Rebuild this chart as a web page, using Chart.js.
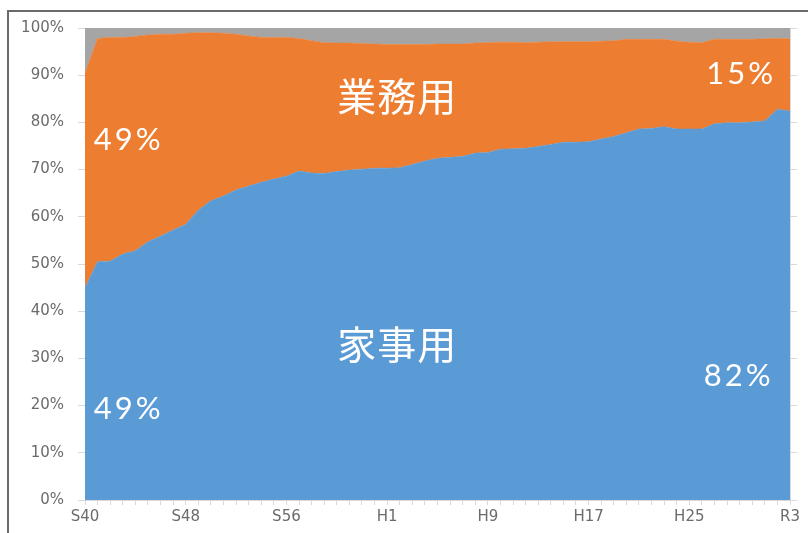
<!DOCTYPE html>
<html lang="ja">
<head>
<meta charset="utf-8">
<title>家事用・業務用の比率</title>
<script src="https://cdn.jsdelivr.net/npm/chart.js@4.4.1/dist/chart.umd.min.js"></script>
<style>
    html, body { margin: 0; padding: 0; background: #fff; overflow: hidden; }
    #frame {
        position: absolute; left: 7px; top: 10px; width: 900px; height: 600px;
        border-left: 2px solid #6a6a6a; border-top: 2px solid #6a6a6a;
    }
    #shareChart { position: absolute; left: 0; top: 0; }
</style>
</head>
<body>
<div id="frame"></div>
<canvas id="shareChart" width="808" height="533"></canvas>
<script>
// 年度 (S40 = 1965 ... R3 = 2021)
const years = [
    'S40', 'S41', 'S42', 'S43', 'S44', 'S45', 'S46', 'S47', 'S48', 'S49',
    'S50', 'S51', 'S52', 'S53', 'S54', 'S55', 'S56', 'S57', 'S58', 'S59',
    'S60', 'S61', 'S62', 'S63', 'H1', 'H2', 'H3', 'H4', 'H5', 'H6',
    'H7', 'H8', 'H9', 'H10', 'H11', 'H12', 'H13', 'H14', 'H15', 'H16',
    'H17', 'H18', 'H19', 'H20', 'H21', 'H22', 'H23', 'H24', 'H25', 'H26',
    'H27', 'H28', 'H29', 'H30', 'R1', 'R2', 'R3'
];

// 家事用 (%)
const household = [
    45.0, 50.5, 50.6, 52.1, 52.8, 54.7, 55.9, 57.2, 58.4, 61.4,
    63.4, 64.4, 65.7, 66.5, 67.3, 68.0, 68.6, 69.7, 69.3, 69.2,
    69.6, 69.9, 70.1, 70.3, 70.3, 70.4, 71.1, 71.8, 72.4, 72.6,
    72.8, 73.5, 73.6, 74.3, 74.4, 74.5, 74.9, 75.3, 75.8, 75.8,
    75.9, 76.5, 77.0, 77.8, 78.6, 78.7, 79.1, 78.6, 78.6, 78.6,
    79.7, 79.9, 79.9, 80.1, 80.3, 82.8, 82.4
];

// 業務用 (%)
const business = [
    45.4, 47.3, 47.4, 45.9, 45.4, 43.8, 42.8, 41.5, 40.5, 37.6,
    35.6, 34.5, 33.0, 31.8, 30.7, 30.0, 29.4, 28.1, 28.0, 27.7,
    27.2, 26.9, 26.6, 26.3, 26.2, 26.1, 25.4, 24.7, 24.2, 24.0,
    23.8, 23.3, 23.3, 22.7, 22.6, 22.4, 22.1, 21.8, 21.3, 21.3,
    21.2, 20.7, 20.3, 19.8, 19.0, 18.9, 18.5, 18.6, 18.4, 18.3,
    17.9, 17.7, 17.7, 17.5, 17.4, 15.0, 15.3
];

// その他 (%)
const other = [
    9.6, 2.2, 2.0, 2.0, 1.8, 1.5, 1.3, 1.3, 1.1, 1.0,
    1.0, 1.1, 1.3, 1.7, 2.0, 2.0, 2.0, 2.2, 2.7, 3.1,
    3.2, 3.2, 3.3, 3.4, 3.5, 3.5, 3.5, 3.5, 3.4, 3.4,
    3.4, 3.2, 3.1, 3.0, 3.0, 3.1, 3.0, 2.9, 2.9, 2.9,
    2.9, 2.8, 2.7, 2.4, 2.4, 2.4, 2.4, 2.8, 3.0, 3.1,
    2.4, 2.4, 2.4, 2.4, 2.3, 2.2, 2.3
];

const yTicks = [0, 10, 20, 30, 40, 50, 60, 70, 80, 90, 100];

// text placed on the areas, anchored in data units (category index, %)
const notes = [
    { text: '49%',    x: 0.7,  y: 76.3, align: 'left',   latin: true },
    { text: '49%',    x: 0.7,  y: 19.3, align: 'left',   latin: true },
    { text: '業務用', x: 24.8, y: 85.6, align: 'center', latin: false },
    { text: '家事用', x: 24.8, y: 33.1, align: 'center', latin: false },
    { text: '15%',    x: 54.9, y: 90.3, align: 'right',  latin: true },
    { text: '82%',    x: 54.7, y: 26.3, align: 'right',  latin: true },
];

const tickColor = '#6b6b6b';
const lineColor = '#d9d9d9';
const tickFont = { family: '"DejaVu Sans", sans-serif', size: 15 };

const notesPlugin = {
    id: 'notes',
    afterDatasetsDraw(chart) {
        const { ctx, scales } = chart;
        ctx.save();
        ctx.fillStyle = '#ffffff';
        ctx.textBaseline = 'middle';
        notes.forEach(n => {
            ctx.font = n.latin ? '31px Lato, "DejaVu Sans", sans-serif'
                               : '39px "Noto Sans CJK JP", sans-serif';
            ctx.letterSpacing = n.latin ? '3px' : '1px';
            ctx.textAlign = n.align;
            ctx.fillText(n.text, scales.x.getPixelForValue(n.x), scales.y.getPixelForValue(n.y));
        });
        ctx.restore();
    }
};

function area(label, data, color, fill) {
    return {
        label: label,
        data: data,
        backgroundColor: color,
        borderColor: color,
        borderWidth: 0.5,
        pointRadius: 0,
        tension: 0,
        fill: fill,
    };
}

new Chart(document.getElementById('shareChart'), {
    type: 'line',
    data: {
        labels: years,
        datasets: [
            area('家事用', household, '#5b9bd5', 'origin'),
            area('業務用', business, '#ed7d31', '-1'),
            area('その他', other, '#a5a5a5', '-1'),
        ]
    },
    options: {
        responsive: false,
        animation: false,
        layout: { padding: { left: 0, top: 28, right: 11, bottom: 0 } },
        plugins: {
            legend: { display: false },
            tooltip: { enabled: false },
        },
        scales: {
            x: {
                offset: false,
                border: { color: lineColor },
                grid: { drawOnChartArea: false, tickLength: 5, color: lineColor },
                ticks: {
                    autoSkip: false,
                    maxRotation: 0,
                    padding: 3,
                    color: tickColor,
                    font: tickFont,
                    callback: (v, i) => (i % 8 === 0 ? years[i] : ''),
                },
                afterFit: s => { s.height = 33; },
            },
            y: {
                stacked: true,
                min: 0,
                max: 100,
                border: { color: lineColor },
                grid: { drawOnChartArea: false, tickLength: 7, color: lineColor },
                afterBuildTicks: s => { s.ticks = yTicks.map(v => ({ value: v })); },
                ticks: {
                    padding: 14,
                    color: tickColor,
                    font: tickFont,
                    callback: v => v + '%',
                },
                afterFit: s => { s.width = 85; },
            },
            y2: {
                position: 'right',
                min: 0,
                max: 100,
                border: { color: lineColor },
                grid: { drawOnChartArea: false, tickLength: 7, color: lineColor },
                afterBuildTicks: s => { s.ticks = yTicks.map(v => ({ value: v })); },
                ticks: { display: false },
                afterFit: s => { s.width = 7; },
            },
        }
    },
    plugins: [notesPlugin]
});
</script>
</body>
</html>
